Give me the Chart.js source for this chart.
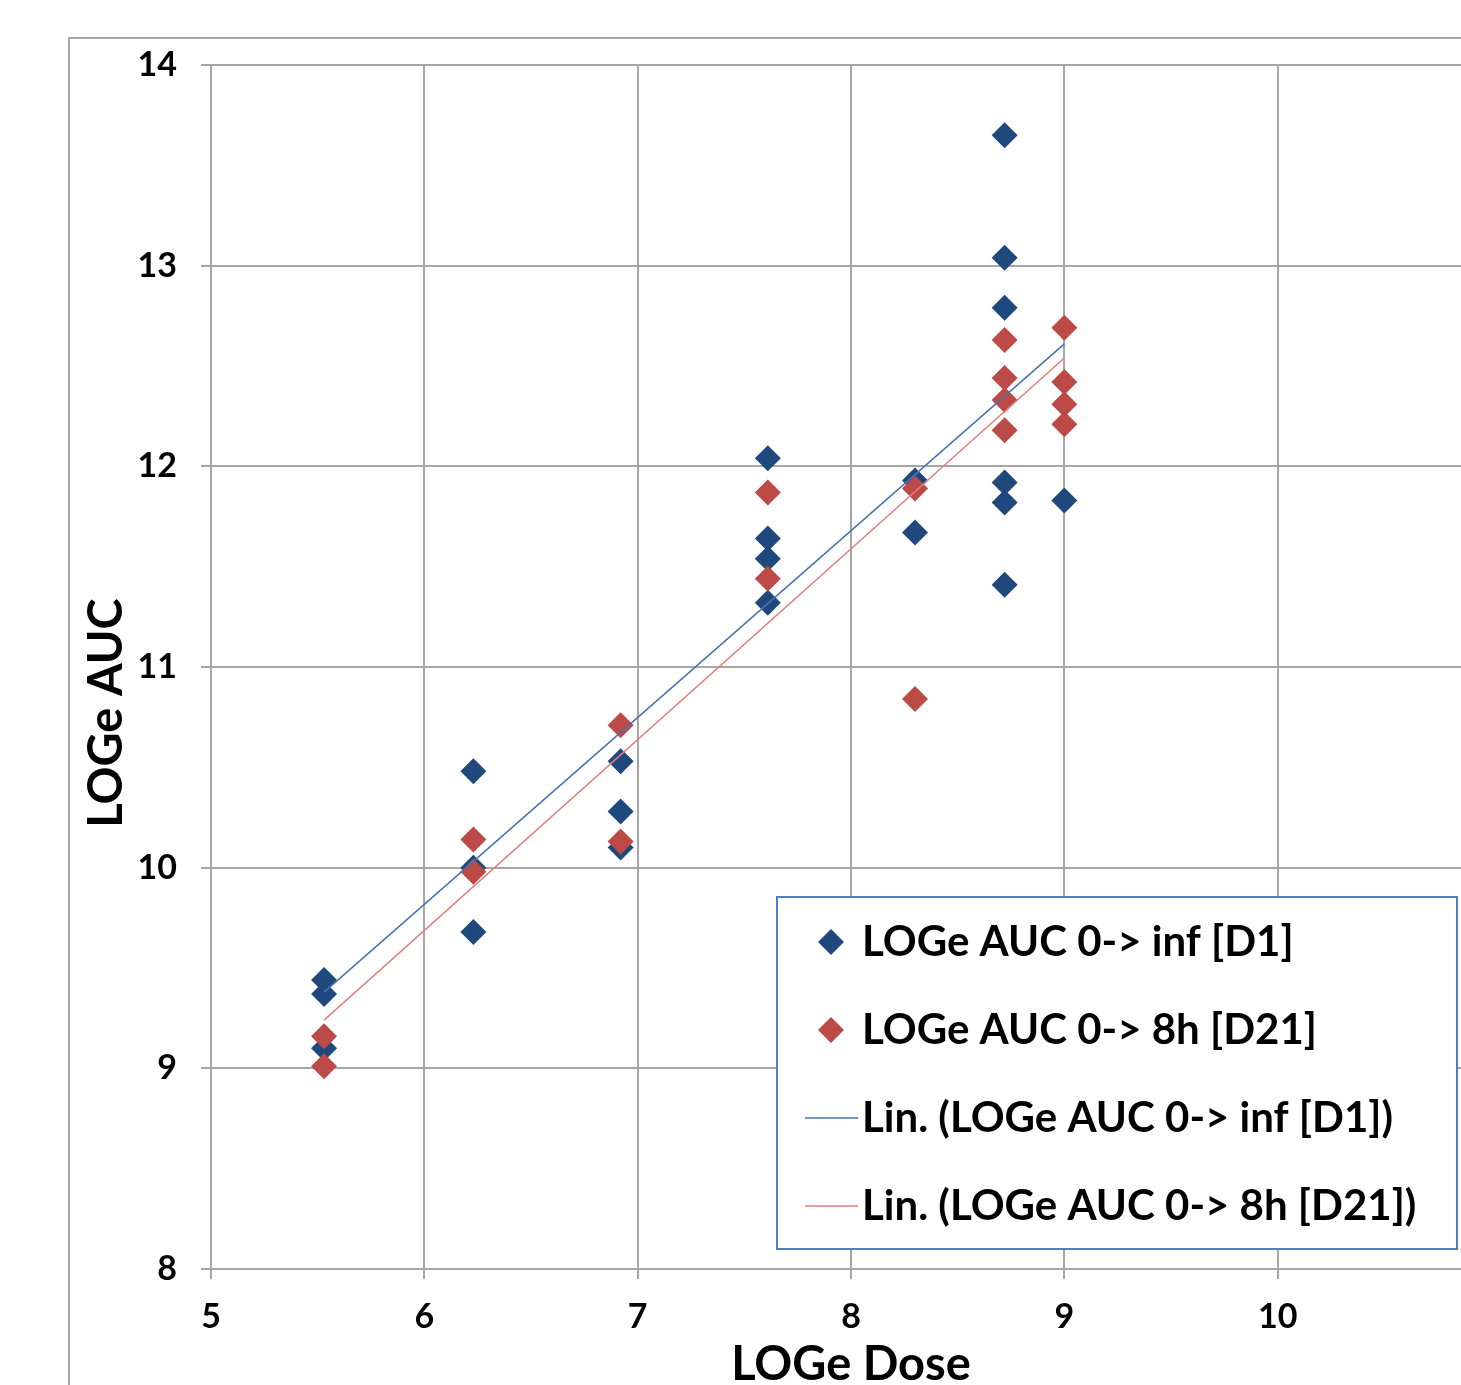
<!DOCTYPE html>
<html>
<head>
<meta charset="utf-8">
<script src="https://cdn.jsdelivr.net/npm/chart.js@4.4.0/dist/chart.umd.min.js"></script>
<style>
  html, body { margin: 0; padding: 0; background: #fff; overflow: hidden; }
  #wrap { position: absolute; left: 0; top: 0; width: 1560px; height: 1450px; }
</style>
</head>
<body>
<div id="wrap"><canvas id="myChart" width="1560" height="1450"></canvas></div>
<script>
// x positions: LOGe of the dose groups
const doseLog = [5.53, 6.23, 6.92, 7.61, 8.30, 8.72, 9.00];

// LOGe AUC 0-> inf [D1], one list per dose group
const aucInfD1 = [
  [9.44, 9.37, 9.10],
  [10.48, 10.00, 9.68],
  [10.53, 10.28, 10.10],
  [12.04, 11.64, 11.54, 11.32],
  [11.93, 11.67],
  [13.65, 13.04, 12.79, 11.92, 11.82, 11.41],
  [11.83]
];

// LOGe AUC 0-> 8h [D21]
const auc8hD21 = [
  [9.16, 9.01],
  [10.14, 9.98],
  [10.71, 10.13],
  [11.87, 11.44],
  [11.89, 10.84],
  [12.63, 12.44, 12.33, 12.18],
  [12.69, 12.42, 12.31, 12.21]
];

// trendline ends
const trendX = [5.53, 9.00];
const trendD1 = [9.38, 12.61];
const trendD21 = [9.24, 12.54];

const seriesNames = [
  'LOGe AUC 0-> inf [D1]',
  'LOGe AUC 0-> 8h [D21]',
  'Lin. (LOGe AUC 0-> inf [D1])',
  'Lin. (LOGe AUC 0-> 8h [D21])'
];

const blue = '#1f497d';
const red = '#bc4a47';
const blueLine = '#4a72ad';
const redLine = '#e27f7f';
const gridCol = '#a6a6a6';
const fontFam = 'Lato, "Open Sans", sans-serif';

const toPoints = (groups) => {
  const pts = [];
  groups.forEach((vals, i) => vals.forEach(v => pts.push({ x: doseLog[i], y: v })));
  return pts;
};
const toLine = (ys) => trendX.map((x, i) => ({ x: x, y: ys[i] }));

const bgPlugin = {
  id: 'bg',
  beforeDraw(chart) {
    const ctx = chart.ctx;
    ctx.save();
    ctx.fillStyle = '#fff';
    ctx.fillRect(0, 0, chart.width, chart.height);
    ctx.strokeStyle = gridCol;
    ctx.lineWidth = 2;
    ctx.strokeRect(69, 38, 3000, 3000);
    ctx.restore();
  }
};

const yTitlePlugin = {
  id: 'yTitle',
  afterDraw(chart) {
    const ctx = chart.ctx;
    ctx.save();
    ctx.translate(107, 713);
    ctx.rotate(-Math.PI / 2);
    ctx.font = 'bold 47px ' + fontFam;
    ctx.fillStyle = '#000';
    ctx.textAlign = 'center';
    ctx.textBaseline = 'middle';
    ctx.fillText('LOGe AUC', 0, 0);
    ctx.restore();
  }
};

const legendPlugin = {
  id: 'boxLegend',
  afterDraw(chart) {
    const ctx = chart.ctx;
    ctx.save();
    ctx.fillStyle = '#fff';
    ctx.fillRect(777, 897, 680, 352);
    ctx.strokeStyle = '#4f7fc0';
    ctx.lineWidth = 2;
    ctx.strokeRect(777, 897, 680, 352);
    const rows = [942, 1030, 1118, 1206];
    ctx.font = 'bold 42px ' + fontFam;
    ctx.textBaseline = 'middle';
    ctx.textAlign = 'left';
    seriesNames.forEach((name, i) => {
      const y = rows[i];
      if (i < 2) {
        ctx.fillStyle = i === 0 ? blue : red;
        ctx.beginPath();
        ctx.moveTo(831, y - 13);
        ctx.lineTo(844, y);
        ctx.lineTo(831, y + 13);
        ctx.lineTo(818, y);
        ctx.closePath();
        ctx.fill();
      } else {
        ctx.strokeStyle = i === 2 ? blueLine : redLine;
        ctx.lineWidth = 1.5;
        ctx.beginPath();
        ctx.moveTo(805, y);
        ctx.lineTo(858, y);
        ctx.stroke();
      }
      ctx.fillStyle = '#000';
      ctx.fillText(name, 862, y);
    });
    ctx.restore();
  }
};

const ctx = document.getElementById('myChart').getContext('2d');
const myChart = new Chart(ctx, {
  type: 'scatter',
  data: {
    datasets: [{
      label: seriesNames[2],
      type: 'line',
      data: toLine(trendD1),
      borderColor: blueLine,
      borderWidth: 1.5,
      pointRadius: 0,
      fill: false,
      order: 0
    }, {
      label: seriesNames[3],
      type: 'line',
      data: toLine(trendD21),
      borderColor: redLine,
      borderWidth: 1.5,
      pointRadius: 0,
      fill: false,
      order: 0
    }, {
      label: seriesNames[1],
      data: toPoints(auc8hD21),
      pointStyle: 'rectRot',
      pointRadius: 13,
      backgroundColor: red,
      borderWidth: 0,
      order: 1
    }, {
      label: seriesNames[0],
      data: toPoints(aucInfD1),
      pointStyle: 'rectRot',
      pointRadius: 13,
      backgroundColor: blue,
      borderWidth: 0,
      order: 2
    }]
  },
  options: {
    responsive: false,
    animation: false,
    devicePixelRatio: 1,
    layout: { padding: { left: 0, top: 65, right: 69, bottom: 0 } },
    plugins: {
      legend: { display: false },
      tooltip: { enabled: false }
    },
    scales: {
      x: {
        type: 'linear',
        min: 5,
        max: 11,
        ticks: { stepSize: 1, color: '#000', padding: 18, font: { family: fontFam, size: 34, weight: 'bold' } },
        grid: { color: gridCol, lineWidth: 2, tickLength: 10 },
        border: { color: gridCol, width: 2 },
        title: {
          display: true,
          text: 'LOGe Dose',
          color: '#000',
          font: { family: fontFam, size: 47, weight: 'bold' },
          padding: { top: 0, bottom: 57 }
        },
        afterFit: (s) => { s.height = 1450 - 1269; }
      },
      y: {
        min: 8,
        max: 14,
        ticks: { stepSize: 1, color: '#000', padding: 24, font: { family: fontFam, size: 34, weight: 'bold' } },
        grid: { color: gridCol, lineWidth: 2, tickLength: 10 },
        border: { color: gridCol, width: 2 },
        afterFit: (s) => { s.width = 211; }
      }
    }
  },
  plugins: [bgPlugin, legendPlugin, yTitlePlugin]
});
</script>
</body>
</html>
